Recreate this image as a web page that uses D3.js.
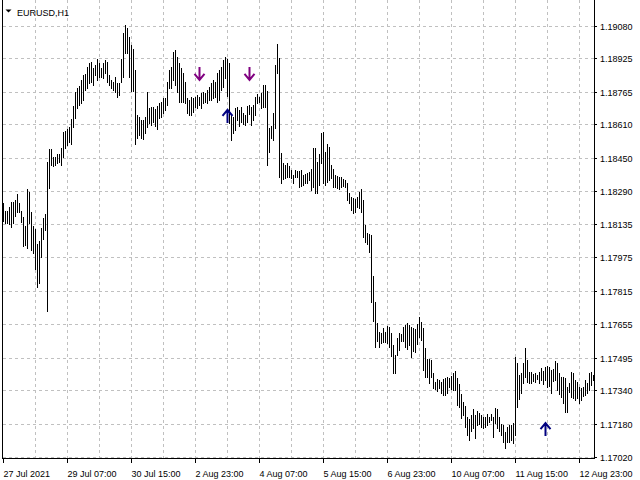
<!DOCTYPE html>
<html>
<head>
<meta charset="utf-8">
<script src="https://cdn.jsdelivr.net/npm/d3@7"></script>
<style>
  html, body { margin: 0; padding: 0; background: #ffffff; }
  svg { display: block; }
  text { font-family: "Liberation Sans", Arial, sans-serif; font-size: 9px; fill: #000; }
</style>
</head>
<body>
<svg id="chart" width="640" height="480"></svg>
<script>
// ---------------- DATA ----------------
const symbolTitle = "EURUSD,H1";

// H1 bar highs (one per bar, oldest first, starting 27 Jul 2021 23:00)
const highs = [
  1.18234,1.18196,1.18196,1.18215,1.18239,1.18239,1.18248,1.18277,1.18234,1.18196,
  1.18167,1.18124,1.18301,1.18287,1.18191,1.18124,1.18110,1.18038,1.18052,1.18114,
  1.18162,1.18181,1.18430,1.18492,1.18492,1.18454,1.18454,1.18468,1.18468,1.18497,
  1.18573,1.18578,1.18588,1.18597,1.18635,1.18698,1.18765,1.18784,1.18793,1.18822,
  1.18846,1.18851,1.18884,1.18903,1.18908,1.18879,1.18894,1.18922,1.18903,1.18879,
  1.18903,1.18918,1.18908,1.18846,1.18822,1.18812,1.18836,1.18808,1.18808,1.18922,
  1.19047,1.19085,1.19070,1.19027,1.18989,1.18970,1.18870,1.18655,1.18645,1.18631,
  1.18631,1.18645,1.18765,1.18688,1.18693,1.18693,1.18683,1.18698,1.18712,1.18717,
  1.18736,1.18736,1.18812,1.18870,1.18884,1.18956,1.18965,1.18932,1.18903,1.18879,
  1.18855,1.18812,1.18736,1.18726,1.18741,1.18736,1.18741,1.18750,1.18741,1.18760,
  1.18765,1.18760,1.18774,1.18788,1.18808,1.18822,1.18812,1.18855,1.18870,1.18884,
  1.18918,1.18932,1.18922,1.18903,1.18655,1.18645,1.18688,1.18693,1.18679,1.18693,
  1.18664,1.18655,1.18698,1.18702,1.18693,1.18702,1.18741,1.18755,1.18741,1.18760,
  1.18798,1.18798,1.18769,1.18592,1.18602,1.18664,1.18894,1.18994,1.18927,1.18473,
  1.18425,1.18416,1.18425,1.18411,1.18392,1.18368,1.18392,1.18387,1.18387,1.18392,
  1.18368,1.18373,1.18377,1.18382,1.18396,1.18497,1.18497,1.18430,1.18468,1.18569,
  1.18573,1.18478,1.18516,1.18502,1.18416,1.18396,1.18368,1.18363,1.18358,1.18358,
  1.18349,1.18344,1.18329,1.18282,1.18263,1.18258,1.18253,1.18263,1.18287,1.18301,
  1.18248,1.18129,1.18091,1.18086,1.18081,1.17885,1.17761,1.17660,1.17617,1.17613,
  1.17636,1.17617,1.17646,1.17641,1.17613,1.17555,1.17508,1.17589,1.17613,1.17608,
  1.17641,1.17651,1.17660,1.17651,1.17641,1.17636,1.17632,1.17656,1.17689,1.17665,
  1.17636,1.17541,1.17489,1.17489,1.17484,1.17421,1.17378,1.17393,1.17388,1.17378,
  1.17393,1.17397,1.17402,1.17397,1.17407,1.17421,1.17431,1.17397,1.17369,1.17321,
  1.17283,1.17264,1.17211,1.17201,1.17221,1.17249,1.17221,1.17240,1.17230,1.17221,
  1.17211,1.17211,1.17225,1.17211,1.17225,1.17211,1.17254,1.17249,1.17211,1.17178,
  1.17173,1.17139,1.17163,1.17173,1.17173,1.17182,1.17498,1.17470,1.17412,1.17421,
  1.17470,1.17541,1.17484,1.17426,1.17426,1.17417,1.17421,1.17412,1.17426,1.17445,
  1.17431,1.17450,1.17455,1.17450,1.17436,1.17441,1.17479,1.17470,1.17421,1.17402,
  1.17402,1.17397,1.17354,1.17374,1.17426,1.17421,1.17388,1.17378,1.17354,1.17350,
  1.17354,1.17388,1.17374,1.17421,1.17426,1.17412
];

// H1 bar lows
const lows = [
  1.18148,1.18138,1.18138,1.18134,1.18119,1.18138,1.18172,1.18191,1.18191,1.18143,
  1.18028,1.18033,1.18019,1.18138,1.18009,1.17995,1.17918,1.17832,1.17851,1.17976,
  1.18062,1.18105,1.17718,1.18306,1.18416,1.18411,1.18416,1.18425,1.18430,1.18416,
  1.18454,1.18497,1.18511,1.18526,1.18516,1.18597,1.18640,1.18688,1.18702,1.18712,
  1.18726,1.18774,1.18784,1.18808,1.18812,1.18798,1.18846,1.18822,1.18836,1.18836,
  1.18831,1.18855,1.18812,1.18798,1.18784,1.18774,1.18765,1.18741,1.18750,1.18812,
  1.18836,1.18951,1.18951,1.18836,1.18769,1.18769,1.18516,1.18545,1.18559,1.18545,
  1.18540,1.18569,1.18597,1.18616,1.18607,1.18621,1.18602,1.18588,1.18640,1.18645,
  1.18664,1.18679,1.18702,1.18784,1.18784,1.18822,1.18798,1.18765,1.18717,1.18717,
  1.18717,1.18712,1.18664,1.18655,1.18655,1.18669,1.18693,1.18688,1.18702,1.18688,
  1.18712,1.18717,1.18712,1.18726,1.18726,1.18736,1.18741,1.18717,1.18726,1.18774,
  1.18788,1.18831,1.18745,1.18616,1.18535,1.18569,1.18583,1.18631,1.18602,1.18621,
  1.18612,1.18607,1.18621,1.18659,1.18607,1.18631,1.18655,1.18712,1.18717,1.18688,
  1.18693,1.18693,1.18416,1.18478,1.18545,1.18535,1.18592,1.18855,1.18358,1.18329,
  1.18349,1.18353,1.18358,1.18358,1.18353,1.18329,1.18358,1.18358,1.18310,1.18315,
  1.18320,1.18329,1.18329,1.18344,1.18296,1.18310,1.18282,1.18282,1.18320,1.18425,
  1.18329,1.18320,1.18334,1.18344,1.18353,1.18310,1.18310,1.18306,1.18301,1.18310,
  1.18315,1.18310,1.18248,1.18234,1.18200,1.18186,1.18191,1.18215,1.18210,1.18191,
  1.18071,1.18048,1.18038,1.18000,1.17761,1.17670,1.17546,1.17574,1.17546,1.17565,
  1.17570,1.17570,1.17565,1.17546,1.17503,1.17421,1.17421,1.17508,1.17531,1.17574,
  1.17574,1.17546,1.17536,1.17555,1.17498,1.17527,1.17522,1.17560,1.17593,1.17579,
  1.17436,1.17402,1.17402,1.17374,1.17402,1.17350,1.17345,1.17335,1.17350,1.17326,
  1.17316,1.17316,1.17326,1.17354,1.17345,1.17340,1.17340,1.17268,1.17259,1.17206,
  1.17221,1.17163,1.17125,1.17101,1.17144,1.17158,1.17111,1.17173,1.17178,1.17163,
  1.17158,1.17163,1.17173,1.17187,1.17197,1.17115,1.17182,1.17158,1.17144,1.17125,
  1.17092,1.17063,1.17092,1.17092,1.17101,1.17087,1.17125,1.17259,1.17297,1.17326,
  1.17374,1.17402,1.17378,1.17374,1.17374,1.17383,1.17378,1.17393,1.17374,1.17388,
  1.17369,1.17388,1.17354,1.17359,1.17326,1.17383,1.17388,1.17340,1.17321,1.17307,
  1.17278,1.17235,1.17235,1.17331,1.17307,1.17302,1.17292,1.17302,1.17278,1.17292,
  1.17311,1.17316,1.17326,1.17340,1.17364,1.17388
];

// Price axis tick labels
const yTicks = [1.19080,1.18925,1.18765,1.18610,1.18450,1.18290,1.18135,
                1.17975,1.17815,1.17655,1.17495,1.17340,1.17180,1.17020];

// Time axis labels (bar index -> label)
const xTickIndex = [0, 32, 64, 96, 128, 160, 192, 224, 256, 288];
const xTickLabels = ["27 Jul 2021","29 Jul 07:00","30 Jul 15:00","2 Aug 23:00","4 Aug 07:00",
                     "5 Aug 15:00","6 Aug 23:00","10 Aug 07:00","11 Aug 15:00","12 Aug 23:00"];

// Signal arrows (bar index, price at arrow tip)
const downArrowIndex = [98, 123];
const downArrowPrice = [1.18822, 1.18822];
const upArrowIndex = [112, 271];
const upArrowPrice = [1.18679, 1.17182];

// ---------------- CHART ----------------
const svg = d3.select("#chart");
const n = highs.length;

const plotLeft = 2, plotRight = 594, plotBottom = 458;

const x = d3.scaleLinear().domain([0, n - 1]).range([3, 3 + 2 * (n - 1)]);
const y = d3.scaleLinear().domain([1.17020, 1.19080]).range([457, 26]);
const py = v => Math.round(y(v));

// grid
const grid = svg.append("g").attr("stroke", "#c0c0c0").attr("stroke-dasharray", "3,3").attr("shape-rendering", "crispEdges");
grid.selectAll("line.h").data(yTicks).join("line")
  .attr("class", "h")
  .attr("x1", 3).attr("x2", plotRight)
  .attr("y1", d => py(d) + 0.5).attr("y2", d => py(d) + 0.5);
const vGrid = d3.range(16, n, 16);
grid.selectAll("line.v").data(vGrid).join("line")
  .attr("class", "v")
  .attr("x1", d => x(d) + 0.5).attr("x2", d => x(d) + 0.5)
  .attr("y1", 0).attr("y2", plotBottom);

// bars (high-low lines)
svg.append("g").attr("fill", "#000").attr("shape-rendering", "crispEdges")
  .selectAll("rect").data(d3.range(n)).join("rect")
  .attr("x", i => x(i))
  .attr("width", 1)
  .attr("y", i => py(highs[i]))
  .attr("height", i => py(lows[i]) - py(highs[i]) + 1);

// arrows
function arrowPath(cx, tipY, dir) {
  // dir = 1 : down arrow (tip at bottom), -1: up arrow (tip at top)
  const len = 13, head = 6, hw = 5;
  const tail = tipY - dir * len;
  return `M${cx},${tail}L${cx},${tipY}M${cx - hw},${tipY - dir * head}L${cx},${tipY}L${cx + hw},${tipY - dir * head}`;
}
svg.append("g").selectAll("path").data(downArrowIndex).join("path")
  .attr("d", (d, k) => arrowPath(x(d) + 0.5, y(downArrowPrice[k]), 1))
  .attr("fill", "none").attr("stroke", "#800080").attr("stroke-width", 2);
svg.append("g").selectAll("path").data(upArrowIndex).join("path")
  .attr("d", (d, k) => arrowPath(x(d) + 0.5, y(upArrowPrice[k]), -1))
  .attr("fill", "none").attr("stroke", "#000080").attr("stroke-width", 2);

// frame lines
svg.append("line").attr("x1", plotLeft + 0.5).attr("x2", plotLeft + 0.5).attr("y1", 0).attr("y2", plotBottom + 1)
  .attr("stroke", "#000");
svg.append("line").attr("x1", plotLeft).attr("x2", plotRight + 1).attr("y1", plotBottom + 0.5).attr("y2", plotBottom + 0.5)
  .attr("stroke", "#000");
svg.append("line").attr("x1", plotRight + 0.5).attr("x2", plotRight + 0.5).attr("y1", 0).attr("y2", plotBottom + 1)
  .attr("stroke", "#000");

// right price axis
const yAxis = d3.axisRight(y).tickValues(yTicks).tickFormat(d3.format(".5f"))
  .tickSize(3).tickPadding(2).tickSizeOuter(0);
const gy = svg.append("g").attr("transform", `translate(${plotRight},0)`).call(yAxis);
gy.select(".domain").remove();
gy.selectAll(".tick").attr("transform", d => `translate(0,${py(d) + 0.5})`);
gy.selectAll(".tick line").attr("stroke", "#000").attr("x1", 0);
gy.selectAll(".tick text").attr("font-family", null).attr("font-size", null)
  .attr("x", 6).attr("dy", "0.35em").style("fill", "#000");

// bottom time axis
const xAxis = d3.axisBottom(x).tickValues(xTickIndex)
  .tickFormat((d, k) => xTickLabels[k]).tickSize(5).tickSizeOuter(0);
const gx = svg.append("g").attr("transform", `translate(0,${plotBottom})`).call(xAxis);
gx.select(".domain").remove();
gx.selectAll(".tick").attr("transform", d => `translate(${x(d) + 0.5},0)`);
gx.selectAll(".tick line").attr("stroke", "#000");
gx.selectAll(".tick text").attr("font-family", null).attr("font-size", null)
  .attr("text-anchor", "start").attr("x", 0).attr("y", 19).attr("dy", 0).style("fill", "#000");

// title with triangle
svg.append("path").attr("d", "M5.5,9.5L11.5,9.5L8.5,12.5Z").attr("fill", "#000");
svg.append("text").attr("x", 17).attr("y", 15.5).text(symbolTitle);
</script>
</body>
</html>
